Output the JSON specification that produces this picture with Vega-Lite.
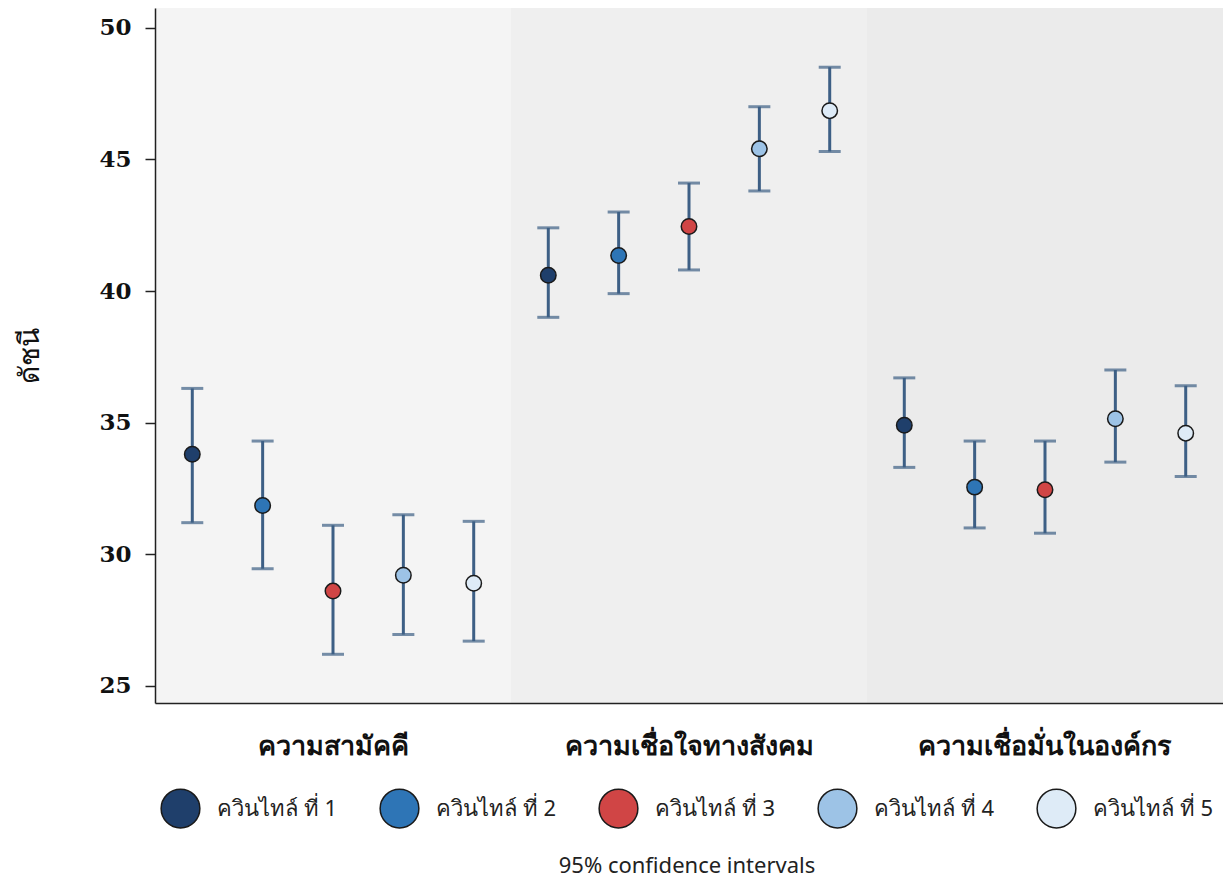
{
  "$schema": "https://vega.github.io/schema/vega-lite/v6.json",
  "width": 1068,
  "height": 695,
  "autosize": "none",
  "padding": {"left": 155, "top": 8, "right": 0, "bottom": 181},
  "background": "white",
  "config": {
    "view": {"stroke": null},
    "font": "Noto Sans"
  },
  "data": {
    "values": [
      {"group": "ความสามัคคี", "quintile": "ควินไทล์ ที่ 1", "mean": 33.8, "lo": 31.2, "hi": 36.3},
      {"group": "ความสามัคคี", "quintile": "ควินไทล์ ที่ 2", "mean": 31.85, "lo": 29.45, "hi": 34.3},
      {"group": "ความสามัคคี", "quintile": "ควินไทล์ ที่ 3", "mean": 28.6, "lo": 26.2, "hi": 31.1},
      {"group": "ความสามัคคี", "quintile": "ควินไทล์ ที่ 4", "mean": 29.2, "lo": 26.95, "hi": 31.5},
      {"group": "ความสามัคคี", "quintile": "ควินไทล์ ที่ 5", "mean": 28.9, "lo": 26.7, "hi": 31.25},
      {"group": "ความเชื่อใจทางสังคม", "quintile": "ควินไทล์ ที่ 1", "mean": 40.6, "lo": 39.0, "hi": 42.4},
      {"group": "ความเชื่อใจทางสังคม", "quintile": "ควินไทล์ ที่ 2", "mean": 41.35, "lo": 39.9, "hi": 43.0},
      {"group": "ความเชื่อใจทางสังคม", "quintile": "ควินไทล์ ที่ 3", "mean": 42.45, "lo": 40.8, "hi": 44.1},
      {"group": "ความเชื่อใจทางสังคม", "quintile": "ควินไทล์ ที่ 4", "mean": 45.4, "lo": 43.8, "hi": 47.0},
      {"group": "ความเชื่อใจทางสังคม", "quintile": "ควินไทล์ ที่ 5", "mean": 46.85, "lo": 45.3, "hi": 48.5},
      {"group": "ความเชื่อมั่นในองค์กร", "quintile": "ควินไทล์ ที่ 1", "mean": 34.9, "lo": 33.3, "hi": 36.7},
      {"group": "ความเชื่อมั่นในองค์กร", "quintile": "ควินไทล์ ที่ 2", "mean": 32.55, "lo": 31.0, "hi": 34.3},
      {"group": "ความเชื่อมั่นในองค์กร", "quintile": "ควินไทล์ ที่ 3", "mean": 32.45, "lo": 30.8, "hi": 34.3},
      {"group": "ความเชื่อมั่นในองค์กร", "quintile": "ควินไทล์ ที่ 4", "mean": 35.15, "lo": 33.5, "hi": 37.0},
      {"group": "ความเชื่อมั่นในองค์กร", "quintile": "ควินไทล์ ที่ 5", "mean": 34.6, "lo": 32.95, "hi": 36.4}
    ]
  },
  "encoding": {
    "x": {
      "field": "group",
      "type": "nominal",
      "sort": ["ความสามัคคี", "ความเชื่อใจทางสังคม", "ความเชื่อมั่นในองค์กร"],
      "scale": {"paddingInner": 0, "paddingOuter": 0},
      "axis": {
        "title": null,
        "labelAngle": 0,
        "labelFontSize": 27,
        "labelFontWeight": "bold",
        "labelColor": "#111111",
        "labelPadding": 30,
        "labelLimit": 0,
        "ticks": false,
        "domainColor": "#222222",
        "domainWidth": 1.5,
        "grid": false
      }
    }
  },
  "layer": [
    {
      "transform": [{"filter": "datum.quintile === 'ควินไทล์ ที่ 1'"}],
      "mark": {"type": "rect", "color": "#000000"},
      "encoding": {
        "y": {"datum": 24.35, "type": "quantitative"},
        "y2": {"datum": 50.75},
        "opacity": {
          "field": "group",
          "type": "nominal",
          "scale": {
            "domain": ["ความสามัคคี", "ความเชื่อใจทางสังคม", "ความเชื่อมั่นในองค์กร"],
            "range": [0.045, 0.08, 0.115]
          },
          "legend": null
        }
      }
    },
    {
      "mark": {"type": "rule", "color": "#3d5f85", "strokeWidth": 3},
      "encoding": {
        "xOffset": {"field": "quintile", "type": "nominal", "scale": {"paddingOuter": 0.03}},
        "y": {
          "field": "lo",
          "type": "quantitative",
          "scale": {"domain": [24.35, 50.75], "nice": false, "zero": false},
          "axis": {
            "title": "ดัชนี",
            "titleFontSize": 28,
            "titleFontWeight": "normal",
            "titleColor": "#111111",
            "titlePadding": 54,
            "values": [25, 30, 35, 40, 45, 50],
            "labelFontSize": 23,
            "labelFont": "DejaVu Serif",
            "labelFontWeight": "bold",
            "labelColor": "#111111",
            "labelPadding": 14,
            "tickColor": "#222222",
            "tickSize": 10,
            "tickWidth": 1.5,
            "domainColor": "#222222",
            "domainWidth": 1.5,
            "gridColor": "#dde6e3",
            "gridWidth": 2,
            "gridOpacity": 1
          }
        },
        "y2": {"field": "hi"}
      }
    },
    {
      "mark": {"type": "tick", "color": "#3d5f85", "thickness": 3, "size": 22, "orient": "horizontal"},
      "encoding": {
        "xOffset": {"field": "quintile", "type": "nominal"},
        "y": {"field": "lo", "type": "quantitative"}
      }
    },
    {
      "mark": {"type": "tick", "color": "#3d5f85", "thickness": 3, "size": 22, "orient": "horizontal"},
      "encoding": {
        "xOffset": {"field": "quintile", "type": "nominal"},
        "y": {"field": "hi", "type": "quantitative"}
      }
    },
    {
      "mark": {"type": "circle", "size": 240, "opacity": 1, "stroke": "#1a1a1a", "strokeWidth": 1.5},
      "encoding": {
        "xOffset": {"field": "quintile", "type": "nominal"},
        "y": {"field": "mean", "type": "quantitative"},
        "fill": {
          "field": "quintile",
          "type": "nominal",
          "scale": {
            "domain": ["ควินไทล์ ที่ 1", "ควินไทล์ ที่ 2", "ควินไทล์ ที่ 3", "ควินไทล์ ที่ 4", "ควินไทล์ ที่ 5"],
            "range": ["#1f3f6b", "#2e75b6", "#d04545", "#9dc3e6", "#deebf7"]
          },
          "legend": {
            "title": "95% confidence intervals",
            "titleOrient": "bottom",
            "titleAnchor": "middle",
            "titleFontSize": 22,
            "titleFontWeight": "normal",
            "titleColor": "#222222",
            "titlePadding": 25,
            "titleLimit": 0,
            "orient": "none",
            "legendX": 5,
            "legendY": 780,
            "direction": "horizontal",
            "columns": 5,
            "gridAlign": "all",
            "columnPadding": 39,
            "symbolType": "circle",
            "symbolSize": 1500,
            "symbolStrokeColor": "#1a1a1a",
            "symbolStrokeWidth": 1.5,
            "symbolOpacity": 1,
            "labelFontSize": 22,
            "labelColor": "#222222",
            "labelOffset": 16,
            "labelLimit": 0
          }
        }
      }
    }
  ]
}
